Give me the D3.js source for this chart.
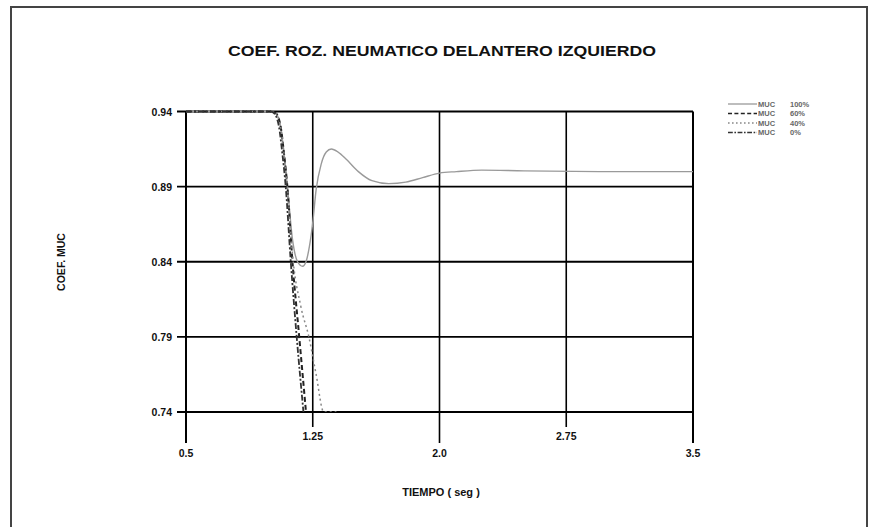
<!DOCTYPE html>
<html><head><meta charset="utf-8">
<script src="https://cdn.jsdelivr.net/npm/d3@7"></script>
<style>body{margin:0;background:#fff}svg{display:block}</style>
</head><body>
<svg id="c" width="871" height="527"></svg>
<script>
const title = "COEF. ROZ. NEUMATICO DELANTERO IZQUIERDO";
const xTitle = "TIEMPO ( seg )";
const yTitle = "COEF. MUC";
const xTicks = [0.5, 1.25, 2.0, 2.75, 3.5];
const xTickLabels = ["0.5", "1.25", "2.0", "2.75", "3.5"];
const yTicks = [0.94, 0.89, 0.84, 0.79, 0.74];
const yTickLabels = ["0.94", "0.89", "0.84", "0.79", "0.74"];
const seriesNames = ["MUC  100%", "MUC  60%", "MUC  40%", "MUC  0%"];

const t100 = [0.5, 1.0, 1.03, 1.06, 1.08, 1.10, 1.13, 1.16, 1.19, 1.21, 1.23, 1.25, 1.27, 1.30, 1.33, 1.36, 1.40, 1.45, 1.52, 1.60, 1.70, 1.80, 1.90, 2.0, 2.1, 2.25, 2.5, 3.0, 3.5];
const v100 = [0.94, 0.94, 0.939, 0.93, 0.912, 0.89, 0.855, 0.84, 0.837, 0.84, 0.85, 0.866, 0.888, 0.905, 0.913, 0.915, 0.913, 0.908, 0.900, 0.894, 0.892, 0.893, 0.896, 0.899, 0.900, 0.901, 0.9005, 0.900, 0.900];
const t60 = [0.5, 1.0, 1.03, 1.06, 1.08, 1.10, 1.13, 1.17, 1.21];
const v60 = [0.94, 0.94, 0.939, 0.93, 0.912, 0.89, 0.84, 0.79, 0.74];
const t40 = [0.5, 1.0, 1.03, 1.06, 1.08, 1.10, 1.13, 1.18, 1.227, 1.27, 1.315, 1.39];
const v40 = [0.94, 0.94, 0.939, 0.93, 0.912, 0.89, 0.845, 0.81, 0.79, 0.765, 0.74, 0.74];
const t0 = [0.5, 1.0, 1.02, 1.05, 1.07, 1.09, 1.12, 1.155, 1.195];
const v0 = [0.94, 0.94, 0.939, 0.93, 0.912, 0.89, 0.84, 0.79, 0.74];

const svg = d3.select("#c");
const x = d3.scaleLinear().domain([0.5, 3.5]).range([186, 693]);
const y = d3.scaleLinear().domain([0.74, 0.94]).range([412, 111.5]);

// outer frame
svg.append("rect").attr("x", 11).attr("y", 7).attr("width", 856).attr("height", 540)
  .attr("fill", "none").attr("stroke", "#444").attr("stroke-width", 2);

// title
svg.append("text").attr("x", 442).attr("y", 56).attr("text-anchor", "middle")
  .attr("font-family", "Liberation Sans, Arial, sans-serif").attr("font-weight", "bold")
  .attr("font-size", 15).attr("textLength", 428).attr("lengthAdjust", "spacingAndGlyphs")
  .attr("fill", "#111").text(title);

// horizontal grid (with left ticks)
svg.append("g").selectAll("line").data(yTicks).join("line")
  .attr("x1", 177).attr("x2", x(3.5)).attr("y1", d => y(d)).attr("y2", d => y(d))
  .attr("stroke", "#000").attr("stroke-width", 1.8);

// vertical grid with alternating tick length
svg.append("g").selectAll("line").data(xTicks).join("line")
  .attr("x1", d => x(d)).attr("x2", d => x(d)).attr("y1", y(0.94))
  .attr("y2", (d, i) => i % 2 === 0 ? 443 : 427)
  .attr("stroke", "#000").attr("stroke-width", (d, i) => (i === 0 || i === 4) ? 2 : 1.6);

// y tick labels
svg.append("g").selectAll("text").data(yTicks).join("text")
  .attr("x", 172).attr("y", d => y(d) + 4).attr("text-anchor", "end")
  .attr("font-family", "Liberation Sans, Arial, sans-serif").attr("font-weight", "bold")
  .attr("font-size", 10.5).attr("fill", "#111").text((d, i) => yTickLabels[i]);

// x tick labels
svg.append("g").selectAll("text").data(xTicks).join("text")
  .attr("x", d => x(d)).attr("y", (d, i) => i % 2 === 0 ? 457 : 440).attr("text-anchor", "middle")
  .attr("font-family", "Liberation Sans, Arial, sans-serif").attr("font-weight", "bold")
  .attr("font-size", 10.5).attr("fill", "#111").text((d, i) => xTickLabels[i]);

// axis titles
svg.append("text").attr("x", 441).attr("y", 496).attr("text-anchor", "middle")
  .attr("font-family", "Liberation Sans, Arial, sans-serif").attr("font-weight", "bold")
  .attr("font-size", 11).attr("fill", "#111").text(xTitle);
svg.append("text").attr("transform", "translate(65,262) rotate(-90)").attr("text-anchor", "middle")
  .attr("font-family", "Liberation Sans, Arial, sans-serif").attr("font-weight", "bold")
  .attr("font-size", 10.5).attr("fill", "#111").text(yTitle);

// data lines
const line = d3.line().x(d => x(d[0])).y(d => y(d[1])).curve(d3.curveMonotoneX);
const series = [
  {t: t100, v: v100, color: "#9a9a9a", dash: null, w: 1.4},
  {t: t60, v: v60, color: "#222", dash: "5,3", w: 2},
  {t: t40, v: v40, color: "#888", dash: "2,3", w: 1.5},
  {t: t0, v: v0, color: "#333", dash: "6,2,2,2", w: 1.8}
];
const clip = svg.append("clipPath").attr("id", "pc").append("rect")
  .attr("x", x(0.5)).attr("y", y(0.94) - 2).attr("width", x(3.5) - x(0.5)).attr("height", y(0.74) - y(0.94) + 2);
const g = svg.append("g").attr("clip-path", "url(#pc)");
series.forEach(s => {
  g.append("path").datum(s.t.map((t, i) => [t, s.v[i]])).attr("d", line)
    .attr("fill", "none").attr("stroke", s.color).attr("stroke-width", s.w)
    .attr("stroke-dasharray", s.dash);
});

// legend
const ly = [104, 113.5, 123, 132.5];
const lg = svg.append("g");
series.forEach((s, i) => {
  lg.append("line").attr("x1", 728).attr("x2", 757).attr("y1", ly[i]).attr("y2", ly[i])
    .attr("stroke", s.color).attr("stroke-width", 1.3).attr("stroke-dasharray", s.dash ? s.dash.split(",").map(v => v * 0.8).join(",") : null);
  const parts = seriesNames[i].split(/\s+/);
  lg.append("text").attr("x", 758).attr("y", ly[i] + 2.5).attr("font-family", "Liberation Sans, Arial, sans-serif")
    .attr("font-size", 7.5).attr("font-weight", "bold").attr("fill", "#666").text(parts[0]);
  lg.append("text").attr("x", 790).attr("y", ly[i] + 2.5).attr("font-family", "Liberation Sans, Arial, sans-serif")
    .attr("font-size", 7.5).attr("font-weight", "bold").attr("fill", "#666").text(parts[1]);
});
</script>
</body></html>
